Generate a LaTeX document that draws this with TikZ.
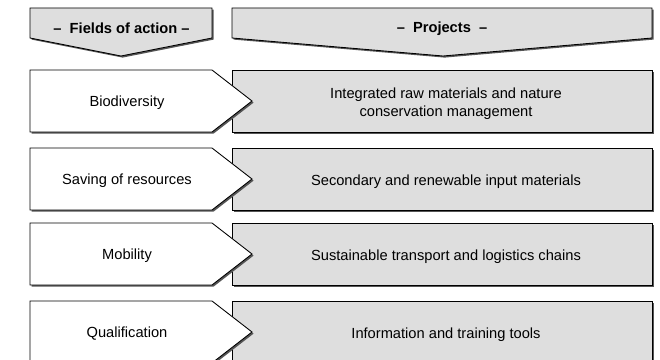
\documentclass[tikz,border=0pt]{standalone}
\usepackage{fontspec}
\setmainfont{Liberation Sans}
\definecolor{boxgray}{HTML}{DEDEDE}
\definecolor{shadowgray}{HTML}{555555}
\tikzset{
  outline/.style={draw=black, line width=0.65pt, line join=miter},
  shade1/.style={fill=shadowgray, draw=none},
  lbl/.style={font=\fontsize{11}{13.5}\selectfont, align=center, inner sep=0pt},
  hdr/.style={font=\fontsize{11}{13.5}\selectfont\bfseries, align=center, inner sep=0pt}
}
\begin{document}
\begin{tikzpicture}[x=0.75pt,y=-0.75pt]
\useasboundingbox (0,0) rectangle (660,360);
\fill[white] (0,0) rectangle (660,360);
% headers
\fill[shade1, shift={(1.6,1.6)}] (30,8) -- (212,8) -- (212,38) -- (121,56) -- (30,38) -- cycle;
\draw[outline, fill=boxgray] (30,8) -- (212,8) -- (212,38) -- (121,56) -- (30,38) -- cycle;
\fill[shade1, shift={(1.6,1.6)}] (232,8) -- (652,8) -- (652,38) -- (443,56) -- (232,38) -- cycle;
\draw[outline, fill=boxgray] (232,8) -- (652,8) -- (652,38) -- (443,56) -- (232,38) -- cycle;
\node[hdr] (hfields) at (121.5,28.5) {\textendash\ \ Fields of action \textendash};
\node[hdr] (hproj) at (442,28.5) {\textendash\ \ Projects \ \textendash};
% rows
\foreach \t/\name/\left/\right in {
  70/r1/{Biodiversity}/{Integrated raw materials and nature\\conservation management},
  148/r2/{Saving of resources}/{Secondary and renewable input materials},
  223/r3/{Mobility}/{Sustainable transport and logistics chains},
  301/r4/{Qualification}/{Information and training tools}}{
  \fill[shade1, shift={(1.6,1.6)}] (232,\t) rectangle (652,\t+62);
  \draw[outline, fill=boxgray] (232,\t) rectangle (652,\t+62);
  \fill[shade1, shift={(1.6,1.6)}] (30,\t) -- (212,\t) -- (252,\t+31) -- (212,\t+62) -- (30,\t+62) -- cycle;
  \draw[outline, fill=white] (30,\t) -- (212,\t) -- (252,\t+31) -- (212,\t+62) -- (30,\t+62) -- cycle;
  \node[lbl] (\name l) at (127,\t+33) {\left};
  \node[lbl] (\name r) at (446,\t+34) {\right};
}
\end{tikzpicture}
\end{document}
